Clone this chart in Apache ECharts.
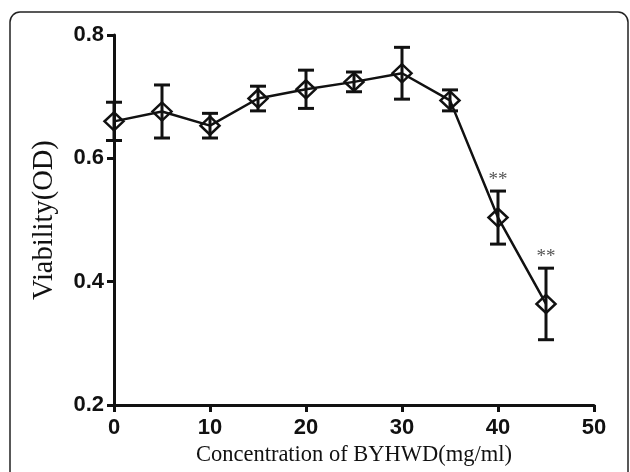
<!DOCTYPE html>
<html>
<head>
<meta charset="utf-8">
<script src="https://cdn.jsdelivr.net/npm/echarts@6/dist/echarts.min.js"></script>
<style>
  html, body { margin: 0; padding: 0; background: #fff; }
  #chart { width: 630px; height: 472px; }
</style>
</head>
<body>
<div id="chart"></div>
<script>
// concentration (mg/ml), mean OD, SD and significance marks
var conc = [0, 5, 10, 15, 20, 25, 30, 35, 40, 45];
var viability = [0.660, 0.676, 0.653, 0.697, 0.712, 0.724, 0.738, 0.694, 0.504, 0.364];
var errors = [0.031, 0.043, 0.020, 0.020, 0.031, 0.016, 0.042, 0.017, 0.043, 0.058];
var stars = ['', '', '', '', '', '', '', '', '**', '**'];

var myChart = echarts.init(document.getElementById('chart'));

var lineData = conc.map(function (c, i) { return [c, viability[i]]; });
var barData = conc.map(function (c, i) {
    return [c, viability[i] - errors[i], viability[i] + errors[i], stars[i]];
});

var tickFont = '"Liberation Sans", Arial, sans-serif';

myChart.setOption({
    animation: false,
    graphic: [{
        type: 'rect',
        shape: { x: 10, y: 12, width: 618, height: 480, r: 10 },
        style: { fill: 'none', stroke: '#222', lineWidth: 1.5 },
        silent: true
    }],
    grid: { left: 114, right: 36, top: 35, bottom: 61 },
    xAxis: {
        type: 'value',
        min: 0,
        max: 50,
        interval: 10,
        name: 'Concentration of BYHWD(mg/ml)',
        nameLocation: 'middle',
        nameGap: 36,
        nameTextStyle: { fontFamily: 'Liberation Serif', fontSize: 22.5, color: '#111' },
        axisLine: { lineStyle: { color: '#111', width: 3 } },
        axisTick: { inside: false, length: 7, lineStyle: { color: '#111', width: 3 } },
        axisLabel: { fontFamily: tickFont, fontWeight: 'bold', fontSize: 22, color: '#111', margin: 12 },
        splitLine: { show: false }
    },
    yAxis: {
        type: 'value',
        min: 0.2,
        max: 0.8,
        interval: 0.2,
        name: 'Viability(OD)',
        nameLocation: 'middle',
        nameGap: 55,
        nameTextStyle: { fontFamily: 'Liberation Serif', fontSize: 28.5, color: '#111' },
        axisLine: { show: true, lineStyle: { color: '#111', width: 3 } },
        axisTick: { show: true, length: 7, lineStyle: { color: '#111', width: 3 } },
        axisLabel: {
            fontFamily: tickFont, fontWeight: 'bold', fontSize: 22, color: '#111', margin: 10,
            formatter: function (v) { return v.toFixed(1); }
        },
        splitLine: { show: false }
    },
    series: [
        {
            type: 'custom',
            z: 2,
            data: barData,
            renderItem: function (params, api) {
                var x = api.value(0);
                var lo = api.coord([x, api.value(1)]);
                var hi = api.coord([x, api.value(2)]);
                var cap = 8;
                var st = { stroke: '#111', lineWidth: 3 };
                var children = [
                    { type: 'line', shape: { x1: lo[0], y1: lo[1], x2: hi[0], y2: hi[1] }, style: st },
                    { type: 'line', shape: { x1: lo[0] - cap, y1: lo[1], x2: lo[0] + cap, y2: lo[1] }, style: st },
                    { type: 'line', shape: { x1: hi[0] - cap, y1: hi[1], x2: hi[0] + cap, y2: hi[1] }, style: st }
                ];
                var s = api.value(3);
                if (s) {
                    children.push({
                        type: 'text',
                        style: {
                            text: s, x: hi[0], y: hi[1] - 2,
                            align: 'center', verticalAlign: 'bottom',
                            fontFamily: 'Liberation Serif', fontSize: 19, fill: '#555'
                        }
                    });
                }
                return { type: 'group', children: children };
            }
        },
        {
            type: 'line',
            z: 3,
            data: lineData,
            symbol: 'diamond',
            symbolSize: [19, 18],
            lineStyle: { color: '#111', width: 2.5 },
            itemStyle: { color: 'rgba(255,255,255,0)', borderColor: '#111', borderWidth: 2.5 }
        }
    ]
});
</script>
</body>
</html>
